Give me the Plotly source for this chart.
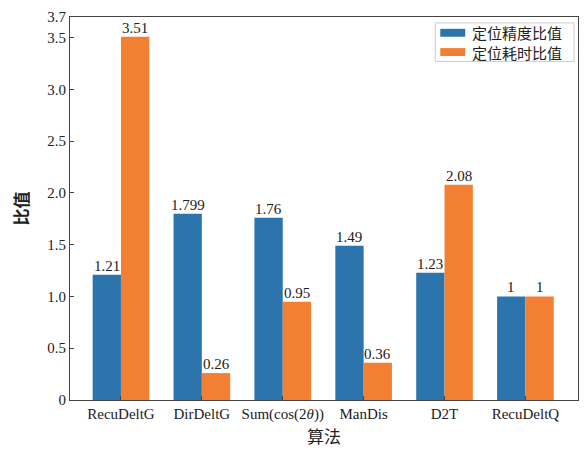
import plotly.graph_objects as go

categories = ["RecuDeltG", "DirDeltG", "Sum(cos(2<i>θ</i>))", "ManDis", "D2T", "RecuDeltQ"]
acc_ratio = [1.21, 1.799, 1.76, 1.49, 1.23, 1]
time_ratio = [3.51, 0.26, 0.95, 0.36, 2.08, 1]
acc_text = ["1.21", "1.799", "1.76", "1.49", "1.23", "1"]
time_text = ["3.51", "0.26", "0.95", "0.36", "2.08", "1"]
series_names = ["定位精度比值", "定位耗时比值"]
ytick_vals = [0, 0.5, 1.0, 1.5, 2.0, 2.5, 3.0, 3.5, 3.7]
ytick_text = ["0", "0.5", "1.0", "1.5", "2.0", "2.5", "3.0", "3.5", "3.7"]

FONT = "Liberation Serif"
CJK = "Noto Sans CJK SC"
BLUE = "#2c74ac"
ORANGE = "#f37f33"
BARGAP = 0.3

W, H = 588, 454
ML, MR, MT, MB = 70, 9, 12, 54
PW, PH = W - ML - MR, H - MT - MB

x_idx = list(range(len(categories)))
half = (1 - BARGAP) / 4  # centre offset of each bar within a group

def px_x(p):  # pixel -> paper x
    return (p - ML) / PW

def px_y(p):  # pixel -> paper y
    return (H - MB - p) / PH

fig = go.Figure()
series = [(acc_ratio, acc_text, series_names[0], BLUE, -half),
          (time_ratio, time_text, series_names[1], ORANGE, half)]
for vals, txt, name, col, off in series:
    fig.add_trace(go.Bar(x=x_idx, y=vals, name=name, marker_color=col,
                         marker_line_width=0, showlegend=False))
    for i, (v, t) in enumerate(zip(vals, txt)):
        fig.add_annotation(x=i + off, y=v, xref="x", yref="y", text=t,
                           showarrow=False, yanchor="bottom", yshift=-1,
                           font=dict(family=FONT, size=15, color="#222"))

# custom legend (wide rectangular swatches, like the reference)
ROW0, ROWSTEP = 28, 19.5
fig.add_shape(type="rect", xref="paper", yref="paper",
              x0=px_x(436), x1=px_x(575), y0=px_y(57), y1=px_y(18),
              line=dict(color="#cccccc", width=1), fillcolor="white", layer="above")
for k, col in enumerate([BLUE, ORANGE]):
    yc = ROW0 + k * ROWSTEP
    fig.add_shape(type="rect", xref="paper", yref="paper",
                  x0=px_x(441), x1=px_x(466), y0=px_y(yc + 4), y1=px_y(yc - 4),
                  line=dict(width=0), fillcolor=col, layer="above")
fig.add_annotation(xref="paper", yref="paper", x=px_x(471), y=px_y(ROW0 + ROWSTEP / 2),
                   xanchor="left", yanchor="middle", align="left",
                   text="<br>".join(series_names), showarrow=False,
                   font=dict(family=CJK, size=15, color="#222"))

fig.update_layout(
    width=W, height=H,
    margin=dict(l=ML, r=MR, t=MT, b=MB),
    barmode="group", bargap=BARGAP, bargroupgap=0,
    plot_bgcolor="white", paper_bgcolor="white",
    font=dict(family=FONT, size=14, color="#222"),
    showlegend=False,
)
fig.update_xaxes(
    tickvals=x_idx, ticktext=categories, range=[-0.63, 5.65],
    showline=True, linecolor="#444", linewidth=1.2, mirror=True,
    ticks="inside", ticklen=4, tickcolor="#444",
    tickfont=dict(family=FONT, size=15),
    title=dict(text="算法", font=dict(family=CJK, size=17), standoff=6),
)
fig.update_yaxes(
    range=[0, 3.7], tickvals=ytick_vals, ticktext=ytick_text,
    showline=True, linecolor="#444", linewidth=1.2, mirror=True,
    ticks="inside", ticklen=4, tickcolor="#444", showgrid=False, zeroline=False,
    tickfont=dict(family=FONT, size=15),
    title=dict(text="<b>比值</b>", font=dict(family=CJK, size=17), standoff=14),
)

fig.write_html("out.html")
